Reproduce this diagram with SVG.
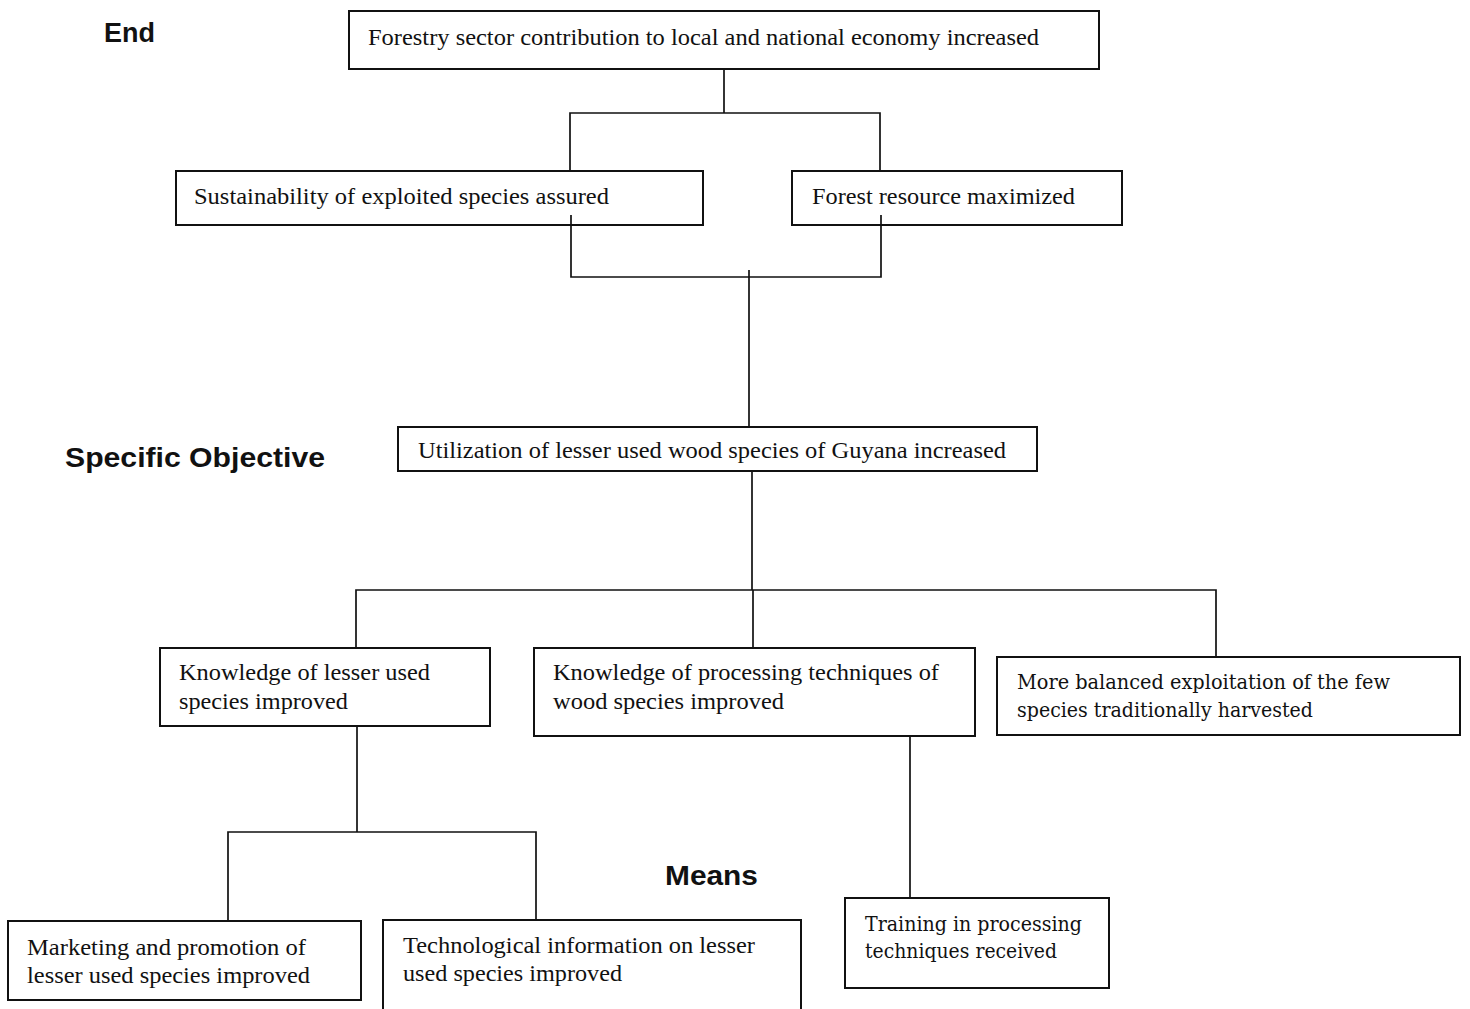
<svg xmlns="http://www.w3.org/2000/svg" width="1470" height="1009" viewBox="0 0 1470 1009">
<style>
.box{fill:#fff;stroke:#111;stroke-width:2}
.con{fill:none;stroke:#111;stroke-width:1.7}
.t{font-family:"Liberation Serif","Times New Roman",serif;font-size:23px;fill:#111}
.t2{font-family:"DejaVu Serif","Liberation Serif",serif;font-size:19.5px;fill:#111}
.lbl{font-family:"Liberation Sans",Arial,sans-serif;font-size:27px;font-weight:bold;fill:#111}
</style>
<rect width="1470" height="1009" fill="#fff"/>
<g id="label-end"><text class="lbl" x="104" y="42" textLength="51" lengthAdjust="spacingAndGlyphs">End</text></g>
<g id="label-specific"><text class="lbl" x="65" y="467" textLength="260" lengthAdjust="spacingAndGlyphs">Specific Objective</text></g>
<g id="label-means"><text class="lbl" x="665" y="885" textLength="93" lengthAdjust="spacingAndGlyphs">Means</text></g>
<g id="n-forestry">
<rect class="box" x="349" y="11" width="750" height="58"/>
<text class="t" x="368" y="45" textLength="671" lengthAdjust="spacingAndGlyphs">Forestry sector contribution to local and national economy increased</text>
</g>
<g id="n-sustainability">
<rect class="box" x="176" y="171" width="527" height="54"/>
<text class="t" x="194" y="204" textLength="415" lengthAdjust="spacingAndGlyphs">Sustainability of exploited species assured</text>
</g>
<g id="n-forest-resource">
<rect class="box" x="792" y="171" width="330" height="54"/>
<text class="t" x="812" y="204" textLength="263" lengthAdjust="spacingAndGlyphs">Forest resource maximized</text>
</g>
<g id="n-utilization">
<rect class="box" x="398" y="427" width="639" height="44"/>
<text class="t" x="418" y="458" textLength="588" lengthAdjust="spacingAndGlyphs">Utilization of lesser used wood species of Guyana increased</text>
</g>
<g id="n-knowledge-lesser">
<rect class="box" x="160" y="648" width="330" height="78"/>
<text class="t" x="179" y="680" textLength="251" lengthAdjust="spacingAndGlyphs">Knowledge of lesser used</text>
<text class="t" x="179" y="709" textLength="169" lengthAdjust="spacingAndGlyphs">species improved</text>
</g>
<g id="n-knowledge-processing">
<rect class="box" x="534" y="648" width="441" height="88"/>
<text class="t" x="553" y="680" textLength="386" lengthAdjust="spacingAndGlyphs">Knowledge of processing techniques of</text>
<text class="t" x="553" y="709" textLength="231" lengthAdjust="spacingAndGlyphs">wood species improved</text>
</g>
<g id="n-balanced">
<rect class="box" x="997" y="657" width="463" height="78"/>
<text class="t2" x="1017" y="689" textLength="373" lengthAdjust="spacingAndGlyphs">More balanced exploitation of the few</text>
<text class="t2" x="1017" y="717" textLength="296" lengthAdjust="spacingAndGlyphs">species traditionally harvested</text>
</g>
<g id="n-marketing">
<rect class="box" x="8" y="921" width="353" height="79"/>
<text class="t" x="27" y="955" textLength="279" lengthAdjust="spacingAndGlyphs">Marketing and promotion of</text>
<text class="t" x="27" y="983" textLength="283" lengthAdjust="spacingAndGlyphs">lesser used species improved</text>
</g>
<g id="n-technological">
<rect class="box" x="383" y="920" width="418" height="100"/>
<text class="t" x="403" y="953" textLength="352" lengthAdjust="spacingAndGlyphs">Technological information on lesser</text>
<text class="t" x="403" y="981" textLength="219" lengthAdjust="spacingAndGlyphs">used species improved</text>
</g>
<g id="n-training">
<rect class="box" x="845" y="898" width="264" height="90"/>
<text class="t2" x="865" y="931" textLength="217" lengthAdjust="spacingAndGlyphs">Training in processing</text>
<text class="t2" x="865" y="958" textLength="192" lengthAdjust="spacingAndGlyphs">techniques received</text>
</g>
<g id="connectors">
<path class="con" d="M724,70 V113"/>
<path class="con" d="M570,170 V113 H880 V170"/>
<path class="con" d="M571,215 V277 H881 V215"/>
<path class="con" d="M749,270 V426"/>
<path class="con" d="M752,472 V590"/>
<path class="con" d="M356,647 V590 H1216 V656"/>
<path class="con" d="M753,590 V647"/>
<path class="con" d="M357,727 V832"/>
<path class="con" d="M228,920 V832 H536 V919"/>
<path class="con" d="M910,737 V897"/>
</g>
</svg>
